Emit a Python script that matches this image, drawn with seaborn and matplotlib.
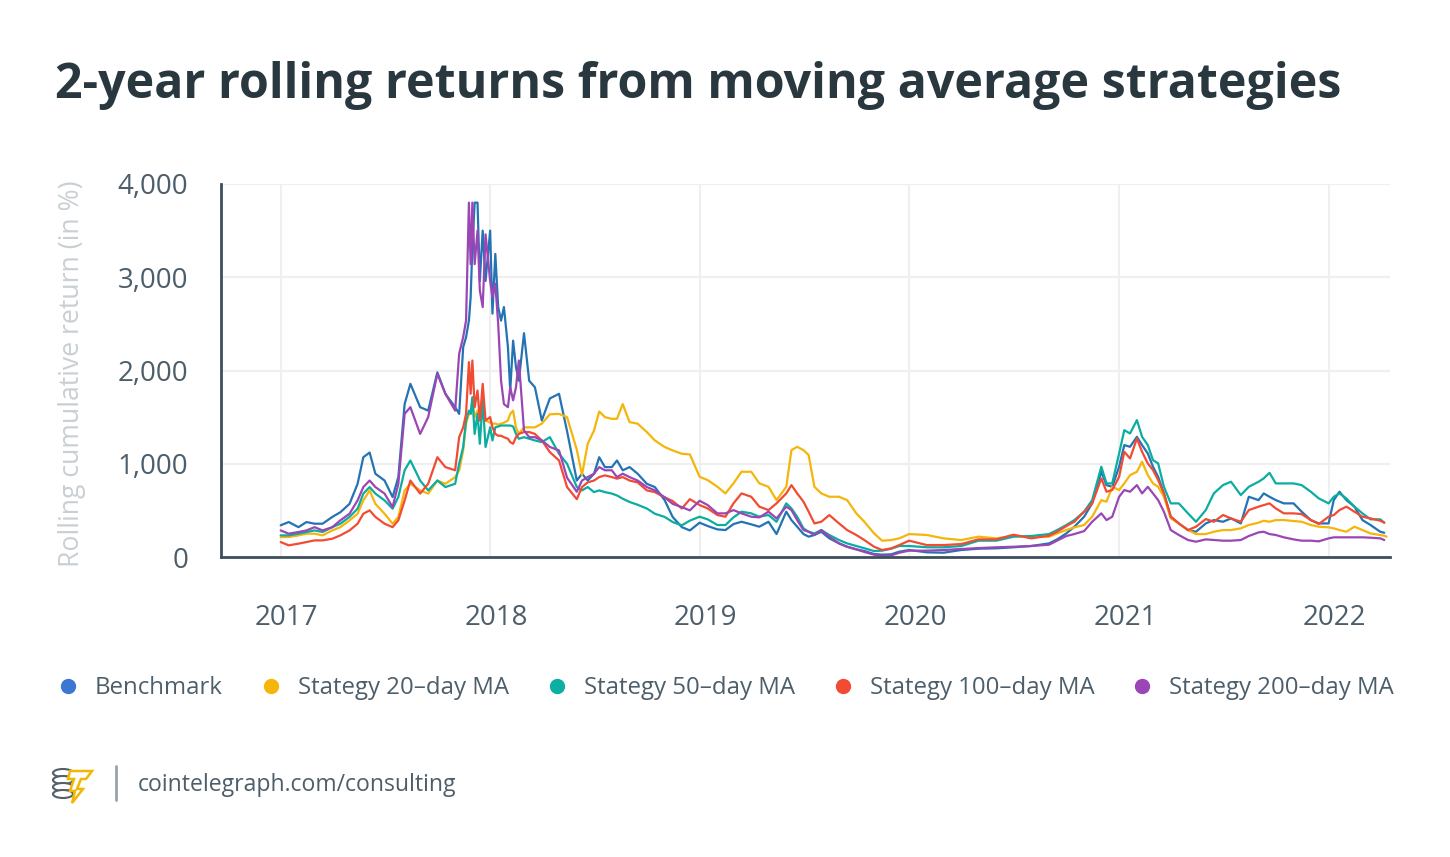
import matplotlib
matplotlib.use("Agg")
import matplotlib.pyplot as plt
import matplotlib.transforms as mtransforms
from matplotlib.lines import Line2D
from matplotlib.patches import Ellipse, Polygon
import numpy as np
import pandas as pd
import seaborn as sns

# sample dates (denser around the late-2017 spike)
dates = [
    # 2017
    "2017-01-01", "2017-01-15", "2017-02-01", "2017-02-15", "2017-03-01", "2017-03-15",
    "2017-04-01", "2017-04-15", "2017-05-01", "2017-05-15", "2017-05-25", "2017-06-05",
    "2017-06-15", "2017-07-01", "2017-07-15", "2017-07-25", "2017-08-05", "2017-08-15",
    "2017-09-01", "2017-09-15", "2017-10-01", "2017-10-15", "2017-11-01", "2017-11-08",
    "2017-11-15", "2017-11-20", "2017-11-25", "2017-11-28", "2017-12-01", "2017-12-05",
    "2017-12-10", "2017-12-14", "2017-12-19", "2017-12-24",
    # 2018
    "2018-01-01", "2018-01-05", "2018-01-10", "2018-01-15", "2018-01-20", "2018-01-25",
    "2018-02-01", "2018-02-05", "2018-02-10", "2018-02-15", "2018-02-20", "2018-03-01",
    "2018-03-10", "2018-03-20", "2018-04-01", "2018-04-15", "2018-05-01", "2018-05-15",
    "2018-06-01", "2018-06-10", "2018-06-20", "2018-07-01", "2018-07-10", "2018-07-20",
    "2018-08-01", "2018-08-10", "2018-08-20", "2018-09-01", "2018-09-15", "2018-10-01",
    "2018-10-15", "2018-11-01", "2018-11-15", "2018-12-01", "2018-12-15",
    # 2019
    "2019-01-01", "2019-01-15", "2019-02-01", "2019-02-15", "2019-03-01", "2019-03-15",
    "2019-04-01", "2019-04-15", "2019-05-01", "2019-05-15", "2019-06-01", "2019-06-10",
    "2019-06-20", "2019-07-01", "2019-07-10", "2019-07-20", "2019-08-01", "2019-08-15",
    "2019-09-01", "2019-09-15", "2019-10-01", "2019-10-15", "2019-11-01", "2019-11-15",
    "2019-12-01", "2019-12-15",
    # 2020
    "2020-01-01", "2020-02-01", "2020-03-01", "2020-04-01", "2020-05-01", "2020-06-01",
    "2020-07-01", "2020-08-01", "2020-09-01", "2020-09-15", "2020-10-01", "2020-10-15",
    "2020-11-01", "2020-11-15", "2020-12-01", "2020-12-10", "2020-12-20",
    # 2021
    "2021-01-01", "2021-01-10", "2021-01-20", "2021-02-01", "2021-02-10", "2021-02-20",
    "2021-03-01", "2021-03-10", "2021-03-20", "2021-04-01", "2021-04-15", "2021-05-01",
    "2021-05-15", "2021-06-01", "2021-06-15", "2021-07-01", "2021-07-15", "2021-08-01",
    "2021-08-15", "2021-09-01", "2021-09-10", "2021-09-20", "2021-10-01", "2021-10-15",
    "2021-11-01", "2021-11-15", "2021-12-01", "2021-12-15",
    # 2022
    "2022-01-01", "2022-01-10", "2022-01-20", "2022-02-01", "2022-02-15", "2022-03-01",
    "2022-03-15", "2022-04-01", "2022-04-08", "2022-04-12",
]

nan = np.nan

benchmark = [
    340, 375, 320, 375, 357, 357, 430, 480, 570, 785, 1070, 1120, 893, 820, 643, 857, 1640,
    1857, 1607, 1570, 1980, 1750, 1607, 1535, 2250, 2357, 2535, 2785, 3320, 3800, 3800, 2960,
    3500, 2960,
    3500, 2610, 3250, 2680, 2535, 2680, 2250, 1785, 2320, 2035, 1890, 2400, 1890, 1820, 1464,
    1700, 1750, 1350, 820, 893, 820, 893, 1070, 964, 964, 1035, 930, 964, 893, 785, 750, 610,
    430, 320, 285,
    368, 332, 296, 289, 353, 378, 350, 325, 378, 246, 486, 396, 325, 246, 218, 236, 271, 200,
    146, 110, 82, 64, 32, 25, 29, 57,
    75, 50, 46, 75, 89, 93, 104, 118, 146, 189, 253, 325, 432, 575, 914, 771, 753,
    968, 1200, 1182, 1289, 1200, 1110, 968, 860, 682, 432, 360, 289, 271, 360, 396, 378, 414,
    360, 646, 610, 682, 646, 610, 575, 575, 486, 396, 360,
    360, 610, 700, 610, 540, 396, 343, 271, 260, nan,
]

ma20 = [
    214, 214, 232, 250, 250, 232, 285, 320, 393, 464, 607, 714, 570, 464, 357, 430, 714, 785,
    714, 680, 820, 785, 857, 930, 1143, 1430, 1535, 1535, 1680, 1500, 1570, 1464, 1535, 1464,
    1440, 1430, 1430, 1420, 1430, 1440, 1464, 1535, 1570, 1390, 1320, 1390, 1390, 1390, 1430,
    1530, 1535, 1500, 1150, 880, 1214, 1357, 1560, 1500, 1482, 1482, 1640, 1446, 1430, 1340,
    1250, 1180, 1143, 1107, 1100,
    860, 825, 753, 682, 790, 914, 914, 790, 753, 610, 753, 1146, 1182, 1146, 1093, 753, 682,
    646, 646, 610, 468, 378, 253, 175, 182, 200,
    246, 236, 200, 182, 218, 200, 225, 218, 218, 253, 289, 318, 343, 432, 610, 593, 753,
    718, 789, 878, 914, 1021, 878, 789, 753, 646, 414, 360, 289, 246, 246, 271, 289, 289, 307,
    343, 368, 389, 378, 396, 396, 386, 378, 343, 325,
    318, 307, 289, 271, 325, 289, 253, 236, 228, 218,
]

ma50 = [
    232, 232, 250, 268, 285, 268, 320, 357, 430, 518, 680, 750, 680, 607, 518, 643, 930, 1035,
    820, 714, 820, 750, 785, 1000, 1180, 1464, 1570, 1535, 1714, 1320, 1535, 1214, 1680, 1180,
    1390, 1250, 1390, 1400, 1410, 1410, 1410, 1410, 1400, 1320, 1268, 1285, 1268, 1250, 1232,
    1285, 1107, 1000, 750, 714, 750, 696, 714, 696, 680, 660, 625, 590, 560, 520, 464, 430,
    375, 340, 390,
    432, 404, 343, 343, 425, 486, 468, 432, 450, 378, 575, 521, 432, 307, 271, 253, 289, 236,
    182, 146, 118, 93, 64, 68, 89, 118,
    118, 104, 104, 118, 175, 175, 218, 225, 246, 289, 343, 396, 486, 610, 968, 789, 790,
    1110, 1360, 1325, 1468, 1289, 1200, 1039, 1003, 753, 575, 575, 468, 378, 503, 682, 771,
    807, 664, 753, 807, 843, 903, 789, 789, 789, 771, 700, 628,
    575, 646, 682, 628, 540, 468, 404, 404, 368, nan,
]

ma100 = [
    160, 125, 143, 160, 178, 178, 196, 232, 285, 357, 464, 500, 430, 357, 320, 393, 607, 820,
    680, 785, 1070, 964, 930, 1285, 1390, 1535, 2090, 1750, 2107, 1607, 1785, 1464, 1857, 1464,
    1500, 1390, 1320, 1300, 1300, 1285, 1268, 1232, 1214, 1285, 1320, 1340, 1340, 1320, 1250,
    1125, 1035, 750, 620, 750, 800, 820, 857, 875, 857, 840, 857, 820, 800, 714, 696, 640,
    600, 520, 620,
    557, 521, 450, 432, 575, 682, 646, 540, 503, 575, 682, 771, 682, 593, 486, 360, 378, 450,
    360, 289, 236, 182, 110, 75, 93, 128,
    175, 128, 128, 139, 189, 189, 239, 200, 228, 271, 332, 378, 486, 575, 843, 700, 718,
    860, 1128, 1057, 1271, 1128, 1003, 932, 825, 682, 432, 360, 289, 325, 407, 378, 450, 414,
    378, 503, 540, 557, 575, 521, 468, 468, 460, 396, 354,
    432, 450, 503, 540, 486, 432, 414, 389, 368, nan,
]

ma200 = [
    285, 250, 268, 285, 320, 285, 320, 393, 464, 607, 750, 820, 750, 680, 535, 785, 1535, 1607,
    1320, 1500, 1964, 1750, 1570, 2180, 2357, 2535, 3800, 3140, 3800, 3140, 3500, 2860, 2680,
    3460,
    2960, 2785, 2930, 2500, 1890, 1640, 1607, 1820, 1680, 1820, 2107, 1357, 1285, 1285, 1250,
    1180, 1143, 850, 700, 820, 857, 893, 964, 930, 930, 857, 893, 857, 820, 750, 714, 640,
    570, 535, 500,
    603, 557, 468, 468, 503, 468, 432, 425, 486, 414, 540, 503, 396, 289, 271, 236, 289, 218,
    146, 110, 82, 54, 25, 11, 18, 46,
    68, 68, 75, 86, 96, 104, 110, 118, 132, 175, 225, 246, 278, 378, 468, 396, 432,
    646, 718, 700, 771, 682, 753, 682, 610, 486, 289, 236, 182, 164, 189, 182, 175, 175, 182,
    225, 264, 271, 246, 236, 211, 189, 175, 175, 168,
    200, 211, 211, 211, 211, 211, 207, 200, 182, nan,
]

series_names = ["Benchmark", "Stategy 20–day MA", "Stategy 50–day MA",
                "Stategy 100–day MA", "Stategy 200–day MA"]
line_colors = ["#2473b4", "#f5b50a", "#0bada0", "#f24b33", "#9b46b5"]
legend_colors = ["#3a78d2", "#f5b50a", "#0bb0a3", "#f24b33", "#9b46b5"]
year_ticks = ["2017-01-01", "2018-01-01", "2019-01-01", "2020-01-01", "2021-01-01", "2022-01-01"]
year_labels = ["2017", "2018", "2019", "2020", "2021", "2022"]
y_ticks = [0, 1000, 2000, 3000, 4000]

df = pd.DataFrame({"date": pd.to_datetime(dates)})
for name, vals in zip(series_names, [benchmark, ma20, ma50, ma100, ma200]):
    df[name] = vals
long_df = df.melt(id_vars="date", var_name="series", value_name="ret").dropna()

sns.set_style("white")
plt.rcParams["font.family"] = ["Open Sans", "DejaVu Sans"]

dark = "#3d4f5c"
text_col = "#4d5e6b"

fig = plt.figure(figsize=(14.5, 8.57), dpi=100)
ax = fig.add_axes([221 / 1450, 1 - 557 / 857, 1169 / 1450, 373 / 857])

sns.lineplot(data=long_df, x="date", y="ret", hue="series", hue_order=series_names,
             palette=dict(zip(series_names, line_colors)), linewidth=1.6,
             estimator=None, legend=False, ax=ax)

ax.set_xlim(pd.Timestamp("2016-09-19"), pd.Timestamp("2022-04-18"))
ax.set_ylim(0, 4000)
ax.set_xticks(pd.to_datetime(year_ticks))
ax.set_xticklabels(year_labels)
ax.set_yticks(y_ticks)
ax.set_yticklabels([f"{v:,}" for v in y_ticks])
ax.grid(True, color="#efefef", linewidth=1.5)
ax.set_axisbelow(True)

for side in ["top", "right"]:
    ax.spines[side].set_visible(False)
for side in ["left", "bottom"]:
    ax.spines[side].set_color(dark)
    ax.spines[side].set_linewidth(2)

ax.tick_params(axis="x", length=7, width=1.5, color=dark, pad=27, labelsize=20, labelcolor=text_col)
ax.tick_params(axis="y", length=6.5, width=1.5, color=dark, pad=17, labelsize=20, labelcolor=text_col)
offset = mtransforms.ScaledTranslation(6 / 100, 0, fig.dpi_scale_trans)
for lab in ax.get_xticklabels():
    lab.set_transform(lab.get_transform() + offset)

ax.set_xlabel("")
ax.set_ylabel("Rolling cumulative return (in %)", fontsize=19.2, color="#c8d0d4")
ax.yaxis.set_label_coords((86 - 221) / 1169, 0.49)

# title
fig.text(55 / 1450, 1 - 98 / 857, "2-year rolling returns from moving average strategies",
         fontsize=34.8, fontweight="bold", color="#29373f", va="baseline", ha="left")

# legend
handles = [Line2D([], [], marker="o", linestyle="none", markersize=10,
                  markerfacecolor=c, markeredgecolor=c) for c in legend_colors]
fig.legend(handles, series_names, loc="center left", bbox_to_anchor=(56 / 1450, 1 - 688 / 857),
           ncol=5, frameon=False, fontsize=17.3, labelcolor=text_col, handlelength=1.0,
           handletextpad=0.62, columnspacing=1.5, borderpad=0, borderaxespad=0)

# footer: logo, separator and url
logo = fig.add_axes([50 / 1450, 1 - 805 / 857, 46 / 1450, 46 / 857])
logo.set_xlim(0, 46)
logo.set_ylim(46, 0)
logo.axis("off")
for cy in [14, 21, 28, 35]:
    logo.add_patch(Ellipse((13, cy), 20, 8, facecolor="white", edgecolor="#555f66", linewidth=1.5))
logo.add_patch(Polygon([[20, 12], [42, 12], [36, 20], [31, 20], [27, 30], [33, 30], [22, 44],
                        [25, 32], [20, 32], [24, 20], [18, 20]],
                       closed=True, facecolor="white", edgecolor="#f2b705", linewidth=1.8))
fig.add_artist(Line2D([116 / 1450, 116 / 1450], [1 - 766 / 857, 1 - 800 / 857],
                      color="#9aa3a8", linewidth=2, transform=fig.transFigure))
fig.text(138 / 1450, 1 - 785 / 857, "cointelegraph.com/consulting", fontsize=16.6,
         color=text_col, va="center", ha="left")

fig.savefig("out.png", dpi=100)
